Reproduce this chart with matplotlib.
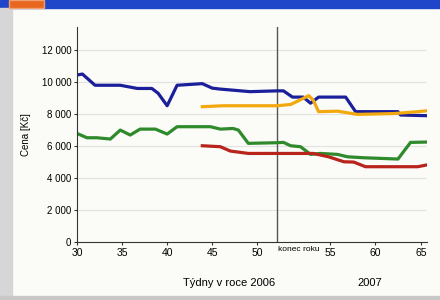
import matplotlib
matplotlib.use("Agg")
import matplotlib.pyplot as plt
from matplotlib.patches import Rectangle

plt.rcParams['font.family'] = ['Liberation Sans Narrow', 'Liberation Sans', 'DejaVu Sans']

# -------------------------
# DATA (x = position on the week axis, 2007 weeks shifted after "konec roku")
# -------------------------
blue_x = [30, 30.6, 32, 34.8, 36.7, 38.3, 39, 40, 41.1, 43.9, 45, 45.9, 49.2, 52.2,
          52.9, 53.9, 55.1, 55.9, 56.8, 59.8, 60.9, 65.6, 65.9, 68.7]
blue_y = [10440, 10500, 9800, 9800, 9600, 9600, 9300, 8520, 9800, 9900, 9620, 9560,
          9400, 9450, 9450, 9060, 9060, 8680, 9060, 9060, 8150, 8150, 7940, 7900]

orange_x = [43.9, 46.2, 52.2, 53.7, 55.1, 55.7, 56.2, 56.8, 58.9, 61.1, 65.1, 67.8, 68.7]
orange_y = [8460, 8520, 8520, 8600, 8980, 9150, 8870, 8150, 8180, 7980, 8030, 8150, 8200]

green_x = [30, 31.1, 32.2, 33.7, 34.8, 35.9, 37, 38.7, 40, 41.1, 43.3, 44.8, 45.9,
           47.3, 47.9, 49, 52.2, 52.9, 53.7, 54.8, 55.9, 57, 58.9, 60, 61.8, 65.6,
           67, 68.7]
green_y = [6790, 6520, 6520, 6440, 7000, 6690, 7060, 7060, 6750, 7210, 7210, 7210,
           7060, 7100, 7000, 6170, 6210, 6230, 6020, 5960, 5480, 5540, 5480, 5330,
           5270, 5190, 6230, 6250]

red_x = [43.9, 45.9, 47, 49, 52.2, 56.2, 57.9, 59.6, 60.7, 62, 67.8, 68.7]
red_y = [6020, 5960, 5690, 5540, 5540, 5540, 5330, 5020, 5000, 4710, 4710, 4810]

y_ticks = [0, 2000, 4000, 6000, 8000, 10000, 12000]
y_tick_labels = ["0", "2 000", "4 000", "6 000", "8 000", "10 000", "12 000"]
x_tick_pos = [30, 35, 40, 45, 50, 58.1, 63.1, 68.2]
x_tick_labels = ["30", "35", "40", "45", "50", "55", "60", "65"]
year_end = 52.2

# -------------------------
# FIGURE
# -------------------------
fig = plt.figure(figsize=(4.4, 3.0), dpi=100)
fig.patch.set_facecolor("#fbfbf8")

# frame decorations (scanned page look)
fig.patches.append(Rectangle((0, 0.975), 1, 0.025, transform=fig.transFigure,
                             color="#1f46c8", zorder=0))
fig.patches.append(Rectangle((0.02, 0.975), 0.08, 0.025, transform=fig.transFigure,
                             facecolor="#e8661e", edgecolor="#f0a070", zorder=1))
fig.patches.append(Rectangle((0, 0), 0.028, 0.975, transform=fig.transFigure,
                             color="#d6d6d6", zorder=0))
fig.patches.append(Rectangle((0, 0), 1, 0.012, transform=fig.transFigure,
                             color="#c8c8c8", zorder=0))

ax = fig.add_axes([0.175, 0.193, 0.795, 0.717])
ax.set_facecolor("none")

ax.plot(blue_x, blue_y, color="#1c1f9a", lw=2.3, solid_joinstyle="round")
ax.plot(orange_x, orange_y, color="#f2a90f", lw=2.3, solid_joinstyle="round")
ax.plot(green_x, green_y, color="#2e8a2a", lw=2.3, solid_joinstyle="round")
ax.plot(red_x, red_y, color="#b8231c", lw=2.3, solid_joinstyle="round")

ax.axvline(year_end, color="#555555", lw=1.0, zorder=1)

ax.set_xlim(30, 68.8)
ax.set_ylim(0, 13440)
ax.set_yticks(y_ticks)
ax.set_yticklabels(y_tick_labels, fontsize=7)
ax.set_xticks(x_tick_pos)
ax.set_xticklabels(x_tick_labels, fontsize=7.5)
ax.tick_params(axis="both", length=2, width=0.8, color="#333333", pad=2)
ax.yaxis.grid(True, color="#e2e2e2", lw=0.8)
ax.set_axisbelow(True)

for s in ["top", "right"]:
    ax.spines[s].set_visible(False)
ax.spines["left"].set_color("#333333")
ax.spines["bottom"].set_color("#333333")

ax.text(year_end + 0.1, -250, "konec roku", fontsize=6, ha="left", va="top")
ax.set_ylabel("Cena [Kč]", fontsize=7, labelpad=8)

fig.text(0.52, 0.045, "Týdny v roce 2006", fontsize=8, ha="center")
fig.text(0.84, 0.045, "2007", fontsize=8, ha="center")

fig.savefig("out.png", dpi=100, facecolor=fig.get_facecolor())
